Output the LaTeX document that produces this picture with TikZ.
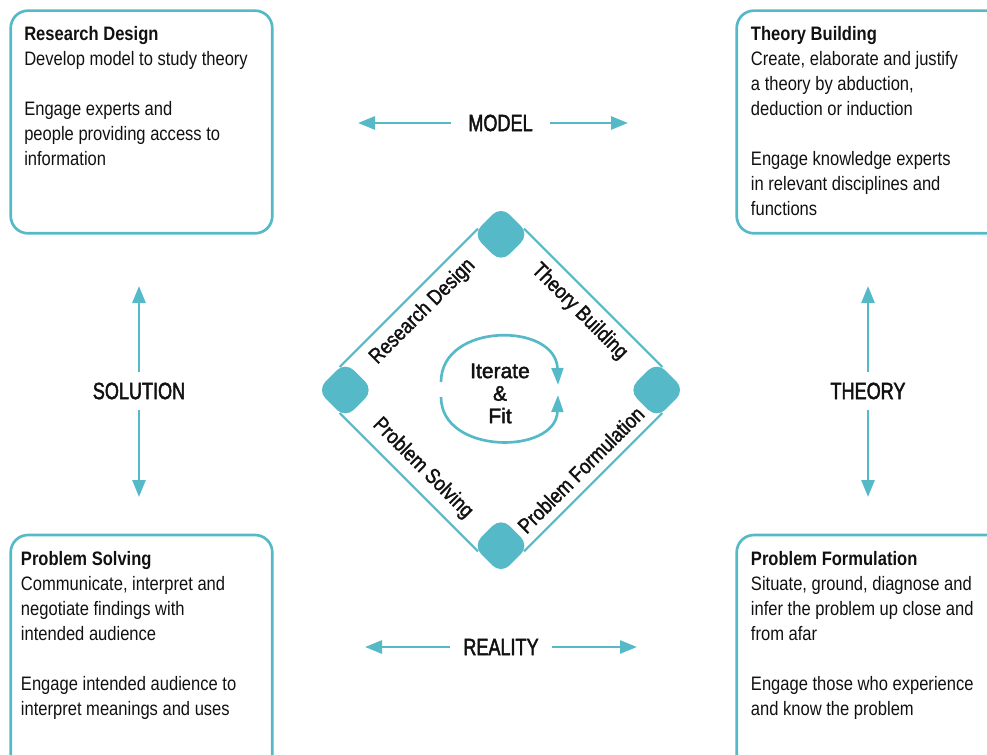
\documentclass[tikz,border=0pt]{standalone}
\usepackage{fontspec}
\setmainfont{Liberation Sans}[FakeStretch=0.85]
\newfontfamily\capsfont{Liberation Sans}[FakeStretch=0.77,FakeBold=2]
\newfontfamily\rimfont{Liberation Sans}[FakeStretch=0.85,FakeBold=1.5]
\newfontfamily\loopfont{Liberation Sans}[FakeBold=2]
\usetikzlibrary{arrows.meta}
\definecolor{lagoon}{RGB}{86,185,199}
\definecolor{ink}{RGB}{17,17,17}
\tikzset{
  panel/.style={draw=lagoon, line width=2pt, rounded corners=13pt, inner sep=0pt},
  boxtext/.style={anchor=north west, align=left, inner sep=0pt, text=ink, font=\fontsize{14.6pt}{18.75pt}\selectfont},
  axislabel/.style={text=ink, font=\capsfont\fontsize{17.6pt}{20pt}\selectfont, inner xsep=13pt, inner ysep=7.7pt},
  twoway/.style={draw=lagoon, line width=2pt, -{Triangle[length=12.75pt,width=9.75pt]}},
  cornerpiece/.style={fill=lagoon, rotate=45, minimum size=30pt, inner sep=0pt, rounded corners=9pt},
  rim/.style={draw=lagoon, line width=1.5pt, shorten <=-6pt, shorten >=-6pt},
  edgelabel/.style={sloped, midway, text=ink, font=\rimfont\fontsize{16pt}{18pt}\selectfont, inner sep=6.5pt},
  loopline/.style={draw=lagoon, line width=2pt, -{Triangle[length=12.75pt,width=8.75pt]}}
}
\begin{document}
\begin{tikzpicture}[x=0.75pt,y=0.75pt]
\useasboundingbox (0,0) rectangle (987,-755);
\clip (0,0) rectangle (987,-755);

% the four panels
\node[panel, minimum width=196.2pt, minimum height=167pt] (rdpanel) at (141.5,-122) {};
\node[panel, minimum width=205pt, minimum height=167pt] (tbpanel) at (873.35,-122) {};
\node[panel, minimum width=196.2pt, minimum height=183.75pt] (pspanel) at (141.5,-657.5) {};
\node[panel, minimum width=205pt, minimum height=183.75pt] (pfpanel) at (873.35,-657.5) {};

\node[boxtext] (rdtext) at (24,-26.5) {\textbf{Research Design}\\Develop model to study theory\\[18.75pt]Engage experts and\\people providing access to\\information};
\node[boxtext] (tbtext) at (750.7,-26.5) {\textbf{Theory Building}\\Create, elaborate and justify\\a theory by abduction,\\deduction or induction\\[18.75pt]Engage knowledge experts\\in relevant disciplines and\\functions};
\node[boxtext] (pstext) at (20.7,-551.5) {\textbf{Problem Solving}\\Communicate, interpret and\\negotiate findings with\\intended audience\\[18.75pt]Engage intended audience to\\interpret meanings and uses};
\node[boxtext] (pftext) at (750.7,-551) {\textbf{Problem Formulation}\\Situate, ground, diagnose and\\infer the problem up close and\\from afar\\[18.75pt]Engage those who experience\\and know the problem};

% axis labels with arrows
\node[axislabel] (model) at (500.5,-123) {MODEL};
\coordinate (modelwest) at (358,-123);
\coordinate (modeleast) at (628,-123);
\draw[twoway] (model) -- (modelwest);
\draw[twoway] (model) -- (modeleast);

\node[axislabel, inner xsep=10pt] (reality) at (501,-647) {REALITY};
\coordinate (realitywest) at (365,-647);
\coordinate (realityeast) at (637,-647);
\draw[twoway] (reality) -- (realitywest);
\draw[twoway] (reality) -- (realityeast);

\node[axislabel] (solution) at (139,-391) {SOLUTION};
\coordinate (solutionup) at (139,-286);
\coordinate (solutiondown) at (139,-497);
\draw[twoway] (solution) -- (solutionup);
\draw[twoway] (solution) -- (solutiondown);

\node[axislabel] (theory) at (868,-391) {THEORY};
\coordinate (theoryup) at (868,-286);
\coordinate (theorydown) at (868,-497);
\draw[twoway] (theory) -- (theoryup);
\draw[twoway] (theory) -- (theorydown);

% diamond
\coordinate (ctopc) at (501,-234.3);
\coordinate (crightc) at (656.7,-390);
\coordinate (cbottomc) at (501,-545.7);
\coordinate (cleftc) at (345.3,-390);
\path (ctopc) node[cornerpiece, fill=none] (ctop) {}
      (crightc) node[cornerpiece, fill=none] (cright) {}
      (cbottomc) node[cornerpiece, fill=none] (cbottom) {}
      (cleftc) node[cornerpiece, fill=none] (cleft) {};
\draw[rim] (cleft.north east) -- (ctop.north west) node[edgelabel, below] (rdlabel) {Research Design};
\draw[rim] (ctop.south east) -- (cright.north east) node[edgelabel, below] (tblabel) {Theory Building};
\draw[rim] (cbottom.south east) -- (cright.south west) node[edgelabel, above] (pflabel) {Problem Formulation};
\draw[rim] (cleft.south west) -- (cbottom.north west) node[edgelabel, above] (pslabel) {Problem Solving};
\node[cornerpiece] at (ctopc) {};
\node[cornerpiece] at (crightc) {};
\node[cornerpiece] at (cbottomc) {};
\node[cornerpiece] at (cleftc) {};

% iterate loop
\node[text=ink, align=center, font=\loopfont\fontsize{15.75pt}{16.9pt}\selectfont] (iterate) at (500,-393.5) {Iterate\\\&\\Fit};
\coordinate (looptopstart) at (441,-382);
\coordinate (looptopend) at (558,-385);
\coordinate (loopbotstart) at (441,-397);
\coordinate (loopbotend) at (558,-395);
\draw[loopline] (looptopstart) .. controls (441,-322) and (556,-322) .. (looptopend);
\draw[loopline] (loopbotstart) .. controls (441,-455) and (556,-455) .. (loopbotend);
\end{tikzpicture}
\end{document}
